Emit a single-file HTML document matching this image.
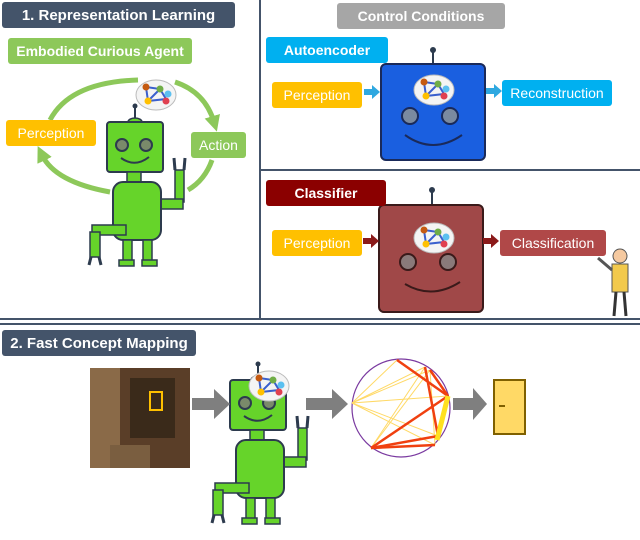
<!DOCTYPE html>
<html><head><style>
body{margin:0;width:640px;height:540px;background:#fff;overflow:hidden;position:relative;font-family:"Liberation Sans",sans-serif}
.b{position:absolute;color:#fff;font-size:14px;display:flex;align-items:center;justify-content:center;border-radius:3px;white-space:nowrap}
.bold{font-weight:bold}
</style></head><body>
<svg width="640" height="540" style="position:absolute;left:0;top:0">
<defs>
<g id="robot">
 <line x1="48" y1="24" x2="48" y2="40" stroke="#2d3b4e" stroke-width="2"/>
 <circle cx="48" cy="24" r="2.5" fill="#2d3b4e"/>
 <ellipse cx="48" cy="40" rx="7" ry="4" fill="#66d42a" stroke="#2d3b4e" stroke-width="1.5"/>
 <rect x="20" y="40" width="56" height="50" rx="3" fill="#66d42a" stroke="#2d3b4e" stroke-width="2"/>
 <circle cx="35" cy="63" r="6" fill="#7a8a6a" stroke="#2d3b4e" stroke-width="2"/>
 <circle cx="59" cy="63" r="6" fill="#7a8a6a" stroke="#2d3b4e" stroke-width="2"/>
 <path d="M34 76 Q48 86 62 75" fill="none" stroke="#2d3b4e" stroke-width="2"/>
 <rect x="40" y="90" width="14" height="10" fill="#66d42a" stroke="#2d3b4e" stroke-width="1.5"/>
 <rect x="88" y="88" width="9" height="32" fill="#66d42a" stroke="#2d3b4e" stroke-width="1.5"/>
 <path d="M88 88 L87 76 M97 88 L98 76" stroke="#2d3b4e" stroke-width="3"/>
 <rect x="70" y="117" width="26" height="10" fill="#66d42a" stroke="#2d3b4e" stroke-width="1.5"/>
 <rect x="26" y="100" width="48" height="58" rx="10" fill="#66d42a" stroke="#2d3b4e" stroke-width="2"/>
 <rect x="5" y="143" width="34" height="10" fill="#66d42a" stroke="#2d3b4e" stroke-width="1.5"/>
 <rect x="3" y="150" width="10" height="25" fill="#66d42a" stroke="#2d3b4e" stroke-width="1.5"/>
 <path d="M4 175 L2 183 M12 175 L14 183" stroke="#2d3b4e" stroke-width="3"/>
 <rect x="36" y="158" width="9" height="22" fill="#66d42a" stroke="#2d3b4e" stroke-width="1.5"/>
 <rect x="56" y="158" width="9" height="22" fill="#66d42a" stroke="#2d3b4e" stroke-width="1.5"/>
 <rect x="32" y="178" width="15" height="6" fill="#66d42a" stroke="#2d3b4e" stroke-width="1.5"/>
 <rect x="55" y="178" width="15" height="6" fill="#66d42a" stroke="#2d3b4e" stroke-width="1.5"/>
</g>
<g id="thought">
 <ellipse cx="0" cy="0" rx="20" ry="15" fill="#f4f4f4" stroke="#bbb"/>
 <path d="M-10 -8 L4 -6 L10 4 L-8 6 Z M-10 -8 L-8 6 M4 -6 L-8 6" stroke="#3a5fcd" stroke-width="2" fill="none"/>
 <circle cx="-10" cy="-8" r="3.5" fill="#c55a11"/><circle cx="4" cy="-6" r="3.5" fill="#70ad47"/>
 <circle cx="12" cy="-1" r="3.5" fill="#5bc0f0"/><circle cx="10" cy="6" r="3.5" fill="#e04050"/>
 <circle cx="-8" cy="6" r="3.5" fill="#ffc000"/>
</g>
<marker id="ga" markerUnits="userSpaceOnUse" markerWidth="16" markerHeight="16" refX="6" refY="8" orient="auto"><path d="M0 0L16 8L0 16Z" fill="#8dc85a"/></marker>
</defs>
<line x1="260" y1="0" x2="260" y2="318" stroke="#44546a" stroke-width="2"/>
<line x1="260" y1="170" x2="640" y2="170" stroke="#44546a" stroke-width="2"/>
<line x1="0" y1="319" x2="640" y2="319" stroke="#44546a" stroke-width="2"/>
<line x1="0" y1="324" x2="640" y2="324" stroke="#44546a" stroke-width="2"/>
<path d="M50 120 Q70 82 138 80" fill="none" stroke="#8dc85a" stroke-width="5"/>
<path d="M175 82 Q205 92 214 122" fill="none" stroke="#8dc85a" stroke-width="5" marker-end="url(#ga)"/>
<path d="M212 160 Q205 180 188 190" fill="none" stroke="#8dc85a" stroke-width="5"/>
<path d="M110 192 Q55 182 42 155" fill="none" stroke="#8dc85a" stroke-width="5" marker-end="url(#ga)"/>
<use href="#robot" x="87" y="82"/>
<use href="#thought" x="156" y="95"/>
<use href="#robot" x="210" y="340"/>
<use href="#thought" x="269" y="386"/>
<line x1="433" y1="50" x2="433" y2="66" stroke="#2d3b4e" stroke-width="2"/><circle cx="433" cy="50" r="3" fill="#2d3b4e"/>
<rect x="381" y="64" width="104" height="96" rx="5" fill="#1a5fe0" stroke="#1a2a5a" stroke-width="2"/>
<use href="#thought" x="434" y="90"/>
<circle cx="410" cy="116" r="8" fill="#7a8aa0" stroke="#1a2a5a" stroke-width="2"/>
<circle cx="450" cy="116" r="8" fill="#7a8aa0" stroke="#1a2a5a" stroke-width="2"/>
<path d="M405 135 Q433 155 462 135" fill="none" stroke="#1a2a5a" stroke-width="2"/>
<line x1="432" y1="190" x2="432" y2="206" stroke="#2d3b4e" stroke-width="2"/><circle cx="432" cy="190" r="3" fill="#2d3b4e"/>
<rect x="379" y="205" width="104" height="107" rx="5" fill="#a04848" stroke="#3a1a1a" stroke-width="2"/>
<use href="#thought" x="434" y="238"/>
<circle cx="408" cy="262" r="8" fill="#8a7a7a" stroke="#3a1a1a" stroke-width="2"/>
<circle cx="448" cy="262" r="8" fill="#8a7a7a" stroke="#3a1a1a" stroke-width="2"/>
<path d="M405 284 Q432 300 460 282" fill="none" stroke="#3a1a1a" stroke-width="2"/>
<path d="M364 89h8v-4l8 7-8 7v-4h-8z" fill="#2fa8e0"/>
<path d="M486 88h8v-4l8 7-8 7v-4h-8z" fill="#2fa8e0"/>
<path d="M363 238h8v-4l8 7-8 7v-4h-8z" fill="#8b1a1a"/>
<path d="M483 238h8v-4l8 7-8 7v-4h-8z" fill="#8b1a1a"/>
<circle cx="620" cy="256" r="7" fill="#f5c9a0" stroke="#555"/>
<rect x="612" y="264" width="16" height="28" fill="#f2c94c" stroke="#555"/>
<line x1="612" y1="270" x2="598" y2="258" stroke="#555" stroke-width="3"/>
<line x1="616" y1="292" x2="614" y2="316" stroke="#333" stroke-width="3"/>
<line x1="624" y1="292" x2="626" y2="316" stroke="#333" stroke-width="3"/>
<rect x="90" y="368" width="100" height="100" fill="#5a3e28"/>
<rect x="90" y="368" width="30" height="100" fill="#8a6a48"/>
<rect x="130" y="378" width="45" height="60" fill="#3a2a1a"/>
<rect x="150" y="392" width="12" height="18" fill="none" stroke="#ffc000" stroke-width="2"/>
<rect x="110" y="445" width="40" height="23" fill="#7a5e40"/>
<path d="M192 398h22v-9l16 15-16 15v-9h-22z" fill="#7f7f7f"/>
<path d="M306 398h26v-9l16 15-16 15v-9h-26z" fill="#7f7f7f"/>
<path d="M453 398h20v-10l14 16-14 16v-10h-20z" fill="#7f7f7f"/>
<circle cx="401" cy="408" r="49" fill="none" stroke="#7a3aa0" stroke-width="1.2"/>
<g stroke="#ffd966" stroke-width="1">
<line x1="352" y1="403" x2="425" y2="367"/><line x1="352" y1="403" x2="430" y2="370"/><line x1="352" y1="403" x2="448" y2="396"/>
<line x1="352" y1="403" x2="438" y2="436"/><line x1="352" y1="403" x2="435" y2="445"/><line x1="371" y1="448" x2="425" y2="367"/>
<line x1="371" y1="448" x2="430" y2="370"/><line x1="371" y1="448" x2="448" y2="396"/><line x1="425" y1="367" x2="438" y2="436"/>
<line x1="430" y1="370" x2="435" y2="445"/><line x1="352" y1="403" x2="397" y2="360"/>
</g>
<g stroke="#f04010" stroke-width="2.5">
<line x1="397" y1="360" x2="448" y2="396"/><line x1="430" y1="370" x2="448" y2="396"/><line x1="425" y1="367" x2="438" y2="436"/>
<line x1="371" y1="448" x2="448" y2="396"/><line x1="371" y1="448" x2="438" y2="436"/><line x1="371" y1="448" x2="435" y2="445"/>
</g>
<line x1="448" y1="396" x2="437" y2="440" stroke="#ffe020" stroke-width="5"/>
<rect x="494" y="380" width="31" height="54" fill="#ffd966" stroke="#7f6000" stroke-width="2"/>
<line x1="499" y1="406" x2="505" y2="406" stroke="#7f6000" stroke-width="2"/>
</svg>
<div class="b bold" style="left:2px;top:2px;width:233px;height:26px;background:#44546a;font-size:15px">1. Representation Learning</div>
<div class="b bold" style="left:8px;top:38px;width:184px;height:26px;background:#8dc85a">Embodied Curious Agent</div>
<div class="b" style="left:6px;top:120px;width:90px;height:26px;background:#ffc000">Perception</div>
<div class="b" style="left:191px;top:132px;width:55px;height:26px;background:#8dc85a">Action</div>
<div class="b bold" style="left:337px;top:3px;width:168px;height:26px;background:#a6a6a6">Control Conditions</div>
<div class="b bold" style="left:266px;top:37px;width:122px;height:26px;background:#00b0f0">Autoencoder</div>
<div class="b" style="left:272px;top:82px;width:90px;height:26px;background:#ffc000">Perception</div>
<div class="b" style="left:502px;top:80px;width:110px;height:26px;background:#00b0f0">Reconstruction</div>
<div class="b bold" style="left:266px;top:180px;width:120px;height:26px;background:#8b0000">Classifier</div>
<div class="b" style="left:272px;top:230px;width:90px;height:26px;background:#ffc000">Perception</div>
<div class="b" style="left:500px;top:230px;width:106px;height:26px;background:#b04848">Classification</div>
<div class="b bold" style="left:2px;top:330px;width:194px;height:26px;background:#44546a;font-size:15px">2. Fast Concept Mapping</div>
</body></html>
